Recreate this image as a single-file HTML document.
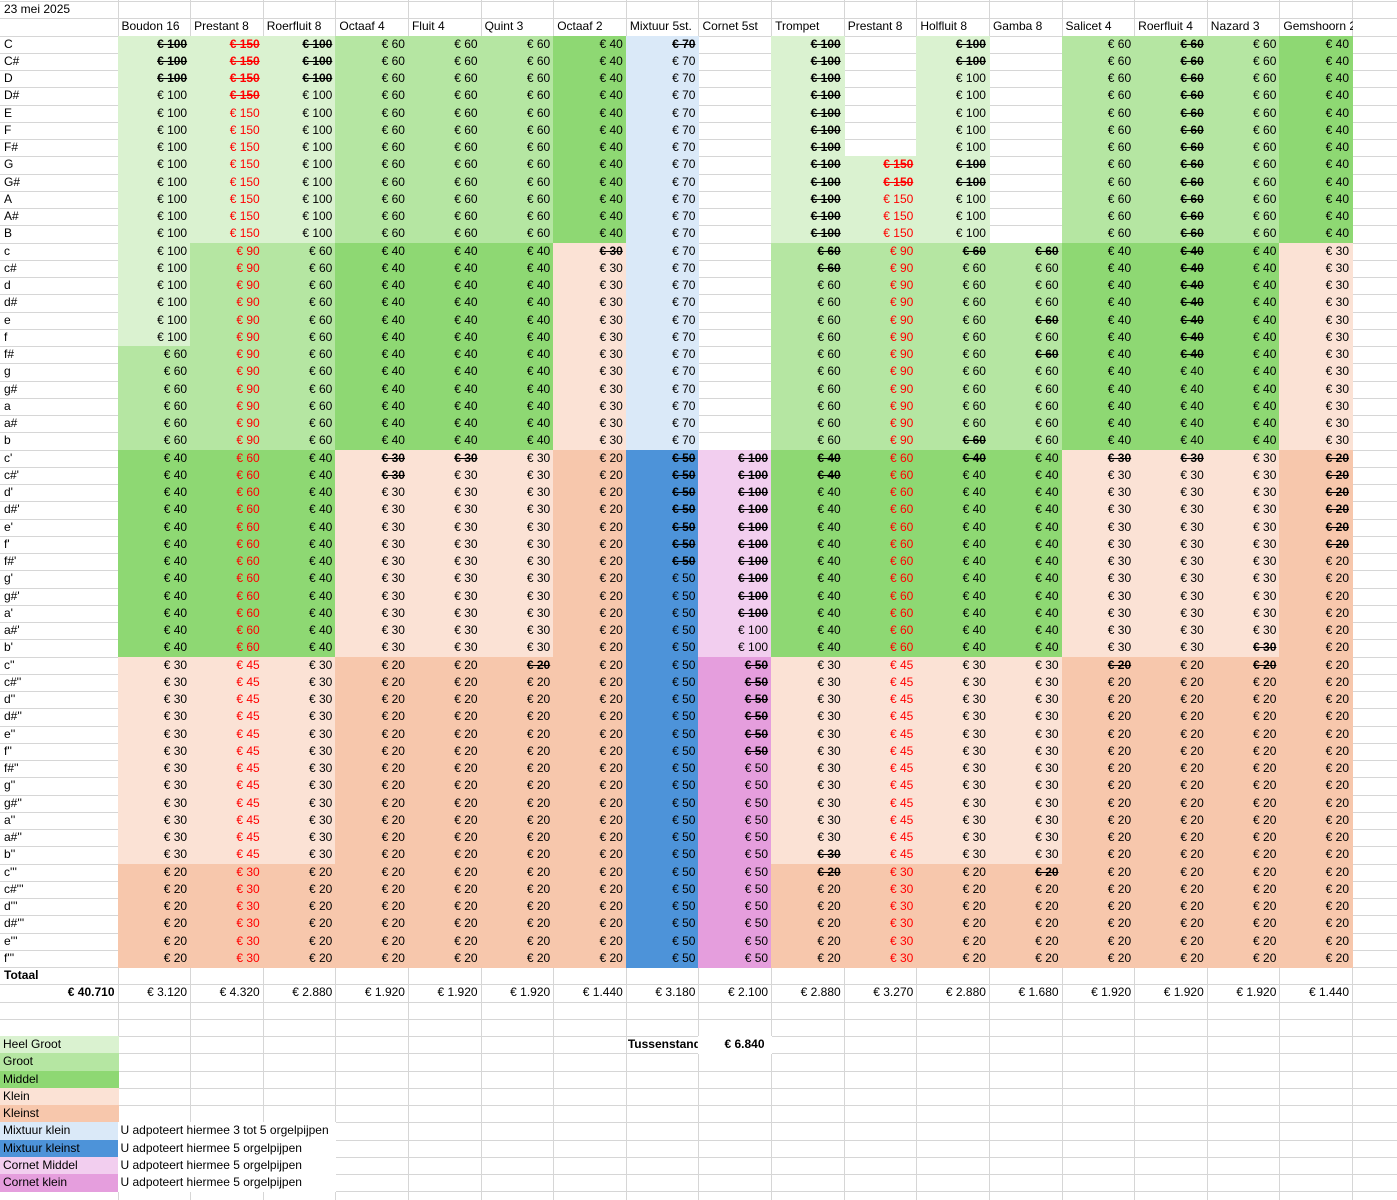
<!DOCTYPE html>
<html><head><meta charset="utf-8"><style>
body{margin:0;width:1397px;height:1200px;overflow:hidden;background:#fff;font-family:"Liberation Sans",sans-serif;font-size:12px;color:#000}
#sheet{position:relative;width:1397px;height:1200px}
.c{position:absolute;box-sizing:border-box;white-space:nowrap;overflow:hidden;line-height:17px;padding:0 4px}
.r{text-align:right}
.s{text-decoration:line-through;font-weight:bold}
.red{color:#ff0000}
.gl{position:absolute;background:#d6d6d6}
</style></head><body>
<div id="sheet"></div>
<script>
const notes=["C","C#","D","D#","E","F","F#","G","G#","A","A#","B","c","c#","d","d#","e","f","f#","g","g#","a","a#","b","c'","c#'","d'","d#'","e'","f'","f#'","g'","g#'","a'","a#'","b'","c''","c#''","d''","d#''","e''","f''","f#''","g''","g#''","a''","a#''","b''","c'''","c#'''","d'''","d#'''","e'''","f'''"];
const stops=["Boudon 16","Prestant 8","Roerfluit 8","Octaaf 4","Fluit 4","Quint 3","Octaaf 2","Mixtuur 5st.","Cornet 5st","Trompet","Prestant 8","Holfluit 8","Gamba 8","Salicet 4","Roerfluit 4","Nazard 3","Gemshoorn 2"];
const totals=["€ 3.120","€ 4.320","€ 2.880","€ 1.920","€ 1.920","€ 1.920","€ 1.440","€ 3.180","€ 2.100","€ 2.880","€ 3.270","€ 2.880","€ 1.680","€ 1.920","€ 1.920","€ 1.920","€ 1.440"];
const colors={HG:"#daf2d0",G:"#b5e6a2",M:"#8ed873",K:"#fbe2d5",KS:"#f7c7ac",MK:"#dae9f8",MKS:"#4d93d9",CM:"#f2ceef",CK:"#e59edd"};
// segments: [from,to,category,price]
const segs=[
[[0,17,"HG",100],[18,23,"G",60],[24,35,"M",40],[36,47,"K",30],[48,53,"KS",20]],
[[0,11,"HG",150],[12,23,"G",90],[24,35,"M",60],[36,47,"K",45],[48,53,"KS",30]],
[[0,11,"HG",100],[12,23,"G",60],[24,35,"M",40],[36,47,"K",30],[48,53,"KS",20]],
[[0,11,"G",60],[12,23,"M",40],[24,35,"K",30],[36,53,"KS",20]],
[[0,11,"G",60],[12,23,"M",40],[24,35,"K",30],[36,53,"KS",20]],
[[0,11,"G",60],[12,23,"M",40],[24,35,"K",30],[36,53,"KS",20]],
[[0,11,"M",40],[12,23,"K",30],[24,53,"KS",20]],
[[0,23,"MK",70],[24,53,"MKS",50]],
[[24,35,"CM",100],[36,53,"CK",50]],
[[0,11,"HG",100],[12,23,"G",60],[24,35,"M",40],[36,47,"K",30],[48,53,"KS",20]],
[[7,11,"HG",150],[12,23,"G",90],[24,35,"M",60],[36,47,"K",45],[48,53,"KS",30]],
[[0,11,"HG",100],[12,23,"G",60],[24,35,"M",40],[36,47,"K",30],[48,53,"KS",20]],
[[12,23,"G",60],[24,35,"M",40],[36,47,"K",30],[48,53,"KS",20]],
[[0,11,"G",60],[12,23,"M",40],[24,35,"K",30],[36,53,"KS",20]],
[[0,11,"G",60],[12,23,"M",40],[24,35,"K",30],[36,53,"KS",20]],
[[0,11,"G",60],[12,23,"M",40],[24,35,"K",30],[36,53,"KS",20]],
[[0,11,"M",40],[12,23,"K",30],[24,53,"KS",20]]
];
const struck=[
[0,1,2],[0,1,2,3],[0,1,2],[24,25],[24],[36],[12],[0,24,25,26,27,28,29,30],
[24,25,26,27,28,29,30,31,32,33,36,37,38,39,40,41],
[0,1,2,3,4,5,6,7,8,9,10,11,12,13,24,25,47,48],[7,8],[0,1,7,8,12,23,24],[12,16,18,48],
[24,36],[0,1,2,3,4,5,6,7,8,9,10,11,12,13,14,15,16,17,18,24],[35,36],[24,25,26,27,28,29]
];
const redCols=[1,10];
const legend=[["Heel Groot","HG",""],["Groot","G",""],["Middel","M",""],["Klein","K",""],["Kleinst","KS",""],["Mixtuur klein","MK","U adpoteert hiermee 3 tot 5 orgelpijpen"],["Mixtuur kleinst","MKS","U adpoteert hiermee 5 orgelpijpen"],["Cornet Middel","CM","U adpoteert hiermee 5 orgelpijpen"],["Cornet klein","CK","U adpoteert hiermee 5 orgelpijpen"]];

const S=document.getElementById('sheet');
const RH=17.25,R0=1.2,C0=117.5,CW=72.62;
const rowY=i=>R0+i*RH;
const colX=i=>i<0?0:C0+i*CW;
const colW=i=>i<0?C0:CW;
// grid lines
for(let i=0;i<70;i++){const g=document.createElement('div');g.className='gl';g.style.cssText=`left:0;top:${rowY(i)}px;width:1397px;height:1px`;S.appendChild(g);}
for(let i=0;i<=18;i++){const g=document.createElement('div');g.className='gl';g.style.cssText=`left:${colX(i)}px;top:0;width:1px;height:1200px`;S.appendChild(g);}
function cell(col,row,text,cls,bg,name,span){
  const d=document.createElement('div');
  d.className='c '+(cls||'');
  d.style.left=colX(col)+'px';d.style.top=rowY(row)+'px';
  d.style.width=(span?span:colW(col)+1)+'px';d.style.height=(RH+1)+'px';
  if(bg)d.style.background=bg;
  d.textContent=text;
  
  
  S.appendChild(d);return d;
}
cell(-1,0,"23 mei 2025","","","date-label");
stops.forEach((s,i)=>cell(i,1,s,"","","header-"+s.toLowerCase().replace(/[^a-z0-9]+/g,'-')));
notes.forEach((n,i)=>cell(-1,2+i,n,"","","note-label"));
segs.forEach((ss,c)=>{ss.forEach(([a,b,cat,p])=>{for(let r=a;r<=b;r++){
  let cls='r';if(struck[c].includes(r))cls+=' s';if(redCols.includes(c))cls+=' red';
  const d=cell(c,2+r,"€ "+p,cls,colors[cat],"price-cell");
  
}});});
const t=cell(-1,56,"Totaal","","","total-label");t.style.fontWeight='bold';
const g=cell(-1,57,"€ 40.710","r","","grand-total");g.style.fontWeight='bold';
totals.forEach((v,i)=>cell(i,57,v,"r","","column-total"));
const ts=cell(7,60,"Tussenstand","","","subtotal-label");ts.style.fontWeight='bold';ts.style.paddingLeft='2px';
const tv=cell(8,60,"€ 6.840","r","","subtotal-value");tv.style.fontWeight='bold';tv.style.background='#fff';tv.style.paddingRight='3px';tv.style.textAlign='left';tv.style.paddingLeft='26px';
legend.forEach(([l,cat,desc],i)=>{
  const d=cell(-1,60+i,l,"",colors[cat],"legend-"+l.toLowerCase().replace(/ /g,'-'));d.style.paddingLeft='3px';
  if(desc){const e=cell(0,60+i,desc,"","#fff","legend-description",218);e.style.paddingLeft='3px';}
});
</script>
</body></html>
